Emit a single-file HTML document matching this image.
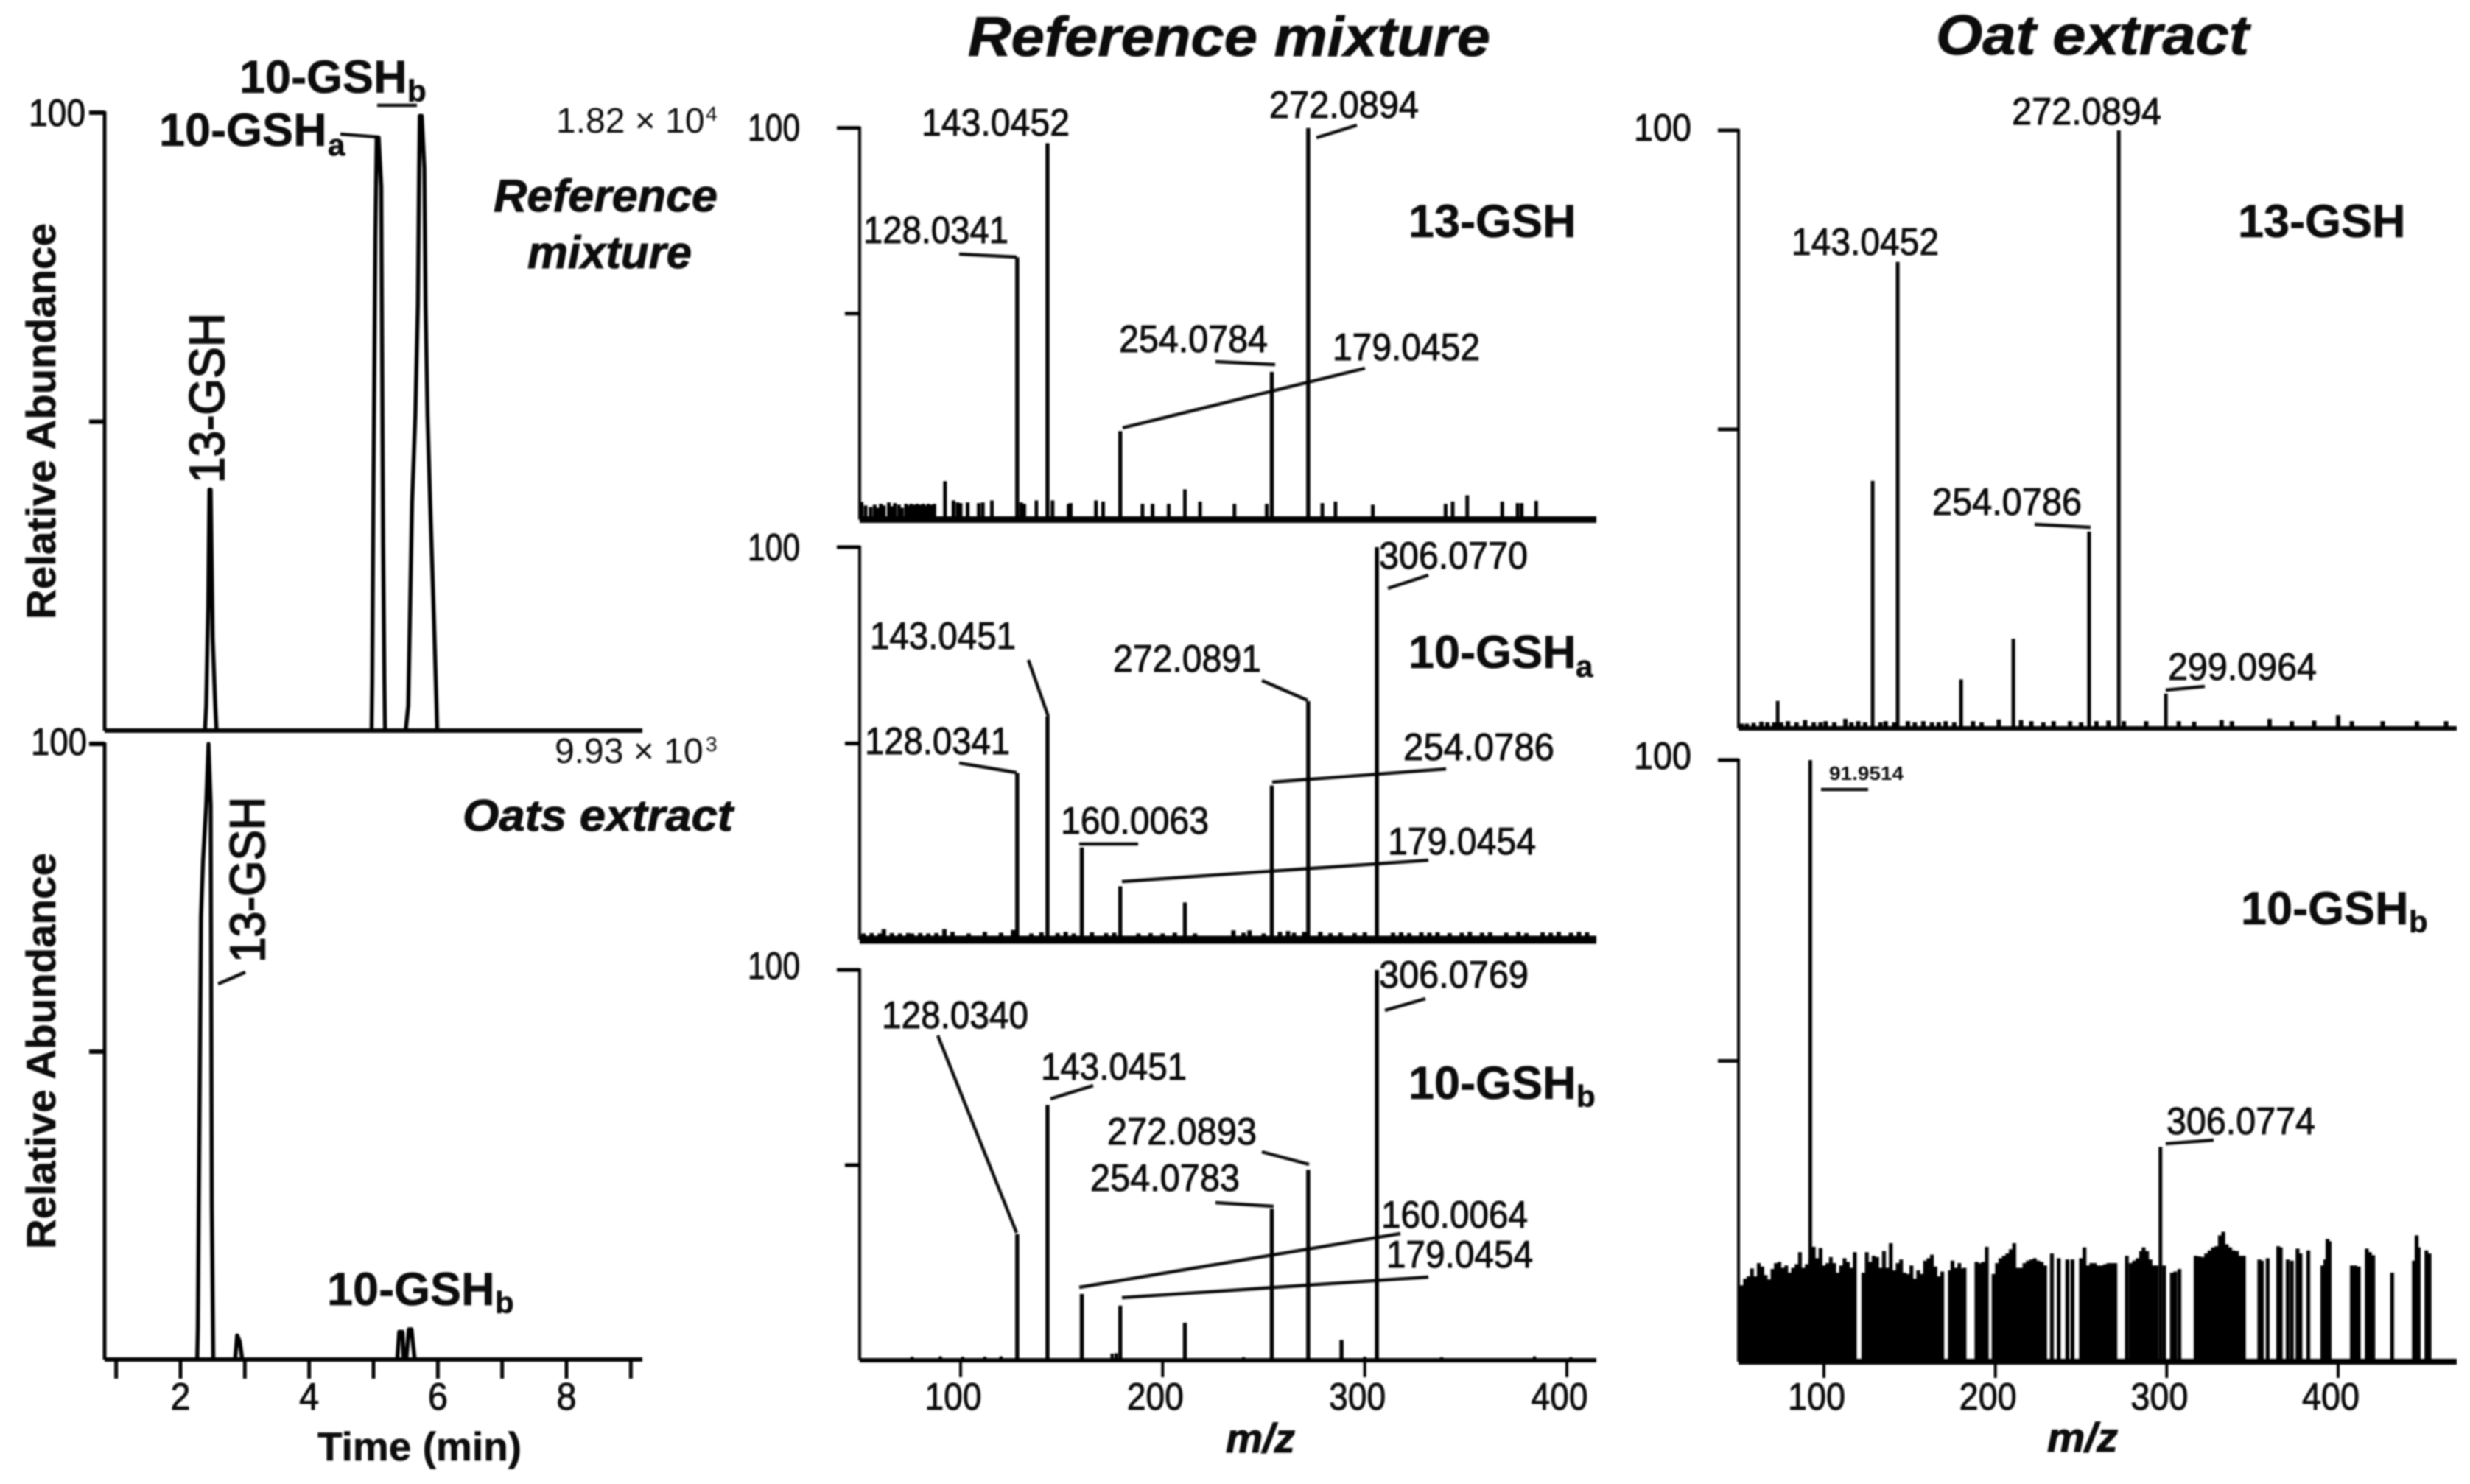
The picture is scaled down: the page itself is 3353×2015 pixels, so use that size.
<!DOCTYPE html>
<html lang="en">
<head>
<meta charset="utf-8">
<title>LC-MS chromatograms and MS/MS spectra of GSH conjugates</title>
<style>
  html, body { margin: 0; padding: 0; background: #fff; }
  svg { display: block; filter: blur(1px); }
  text { font-family: "Liberation Sans", sans-serif; fill: #0c0c0c; }
  .num { font-size: 52px; stroke: #0c0c0c; stroke-width: 1px; }
  .bold { font-weight: bold; font-size: 63px; stroke: #0c0c0c; stroke-width: 0.6px; }
  .sub { font-size: 42px; }
  .it { font-weight: bold; font-style: italic; stroke: #0c0c0c; stroke-width: 1px; }
  .leader { stroke: #0c0c0c; stroke-width: 4.5; fill: none; }
</style>
</head>
<body>
<svg id="figure" xmlns="http://www.w3.org/2000/svg" width="3353" height="2015" viewBox="0 0 3353 2015">
  <rect x="0" y="0" width="3353" height="2015" fill="#fff"/>

  <!-- Column titles -->
  <text class="it" x="1314" y="76" font-size="76" textLength="709" lengthAdjust="spacingAndGlyphs">Reference mixture</text>
  <text class="it" x="2628" y="74" font-size="76" textLength="425" lengthAdjust="spacingAndGlyphs">Oat extract</text>

  <!-- Chromatogram annotations -->
  <g>
    <text class="bold" x="325" y="126">10-GSH<tspan class="sub" x="553" dy="12">b</tspan></text>
    <text class="bold" x="216" y="198">10-GSH<tspan class="sub" x="445" dy="13">a</tspan></text>
    <line class="leader" x1="462" y1="182" x2="512" y2="186"/>
    <line class="leader" x1="512" y1="143" x2="566" y2="143"/>
    <text class="num" x="39" y="171" textLength="77" lengthAdjust="spacingAndGlyphs">100</text>
    <text x="755" y="180" font-size="48">1.82 × 10<tspan x="958" dy="-16" font-size="28">4</tspan></text>
    <text class="it" x="670" y="287" font-size="62" textLength="304" lengthAdjust="spacingAndGlyphs">Reference</text>
    <text class="it" x="716" y="364" font-size="62" textLength="223" lengthAdjust="spacingAndGlyphs">mixture</text>
    <text class="bold" transform="rotate(-90 304 656)" x="304" y="656" style="font-size:67px;font-weight:normal;stroke-width:2px" textLength="231" lengthAdjust="spacingAndGlyphs">13-GSH</text>
    <text class="bold" transform="rotate(-90 75 841)" x="75" y="841" style="font-size:56px" textLength="538" lengthAdjust="spacingAndGlyphs">Relative Abundance</text>

    <text class="num" x="42" y="1025" textLength="76" lengthAdjust="spacingAndGlyphs">100</text>
    <text x="753" y="1036" font-size="48">9.93 × 10<tspan x="958" dy="-16" font-size="28">3</tspan></text>
    <text class="it" x="628" y="1128" font-size="60" textLength="367" lengthAdjust="spacingAndGlyphs">Oats extract</text>
    <text class="bold" transform="rotate(-90 359 1307)" x="359" y="1307" style="font-size:67px;font-weight:normal;stroke-width:2px" textLength="225" lengthAdjust="spacingAndGlyphs">13-GSH</text>
    <line class="leader" x1="296" y1="1336" x2="333" y2="1320"/>
    <text class="bold" transform="rotate(-90 75 1696)" x="75" y="1696" style="font-size:56px" textLength="538" lengthAdjust="spacingAndGlyphs">Relative Abundance</text>
    <text class="bold" x="444" y="1772">10-GSH<tspan class="sub" x="672" dy="11">b</tspan></text>
    <text class="bold" x="431" y="1983" style="font-size:55px" textLength="277" lengthAdjust="spacingAndGlyphs">Time (min)</text>
  </g>

  <!-- Spectrum A annotations -->
  <g>
    <text class="num" x="1015" y="191" textLength="71" lengthAdjust="spacingAndGlyphs">100</text>
    <text class="num" x="1251" y="184" textLength="201" lengthAdjust="spacingAndGlyphs">143.0452</text>
    <text class="num" x="1723" y="160" textLength="203" lengthAdjust="spacingAndGlyphs">272.0894</text>
    <text class="num" x="1172" y="330" textLength="197" lengthAdjust="spacingAndGlyphs">128.0341</text>
    <text class="num" x="1519" y="478" textLength="202" lengthAdjust="spacingAndGlyphs">254.0784</text>
    <text class="num" x="1809" y="489" textLength="200" lengthAdjust="spacingAndGlyphs">179.0452</text>
    <text class="bold" x="1912" y="322">13-GSH</text>
    <line class="leader" x1="1787" y1="187" x2="1842" y2="170"/>
    <line class="leader" x1="1302" y1="345" x2="1380" y2="349"/>
    <line class="leader" x1="1650" y1="491" x2="1731" y2="495"/>
    <line class="leader" x1="1524" y1="581" x2="1853" y2="500"/>
  </g>

  <!-- Spectrum B annotations -->
  <g>
    <text class="num" x="1015" y="761" textLength="71" lengthAdjust="spacingAndGlyphs">100</text>
    <text class="num" x="1872" y="772" textLength="202" lengthAdjust="spacingAndGlyphs">306.0770</text>
    <text class="num" x="1181" y="881" textLength="198" lengthAdjust="spacingAndGlyphs">143.0451</text>
    <text class="num" x="1511" y="912" textLength="201" lengthAdjust="spacingAndGlyphs">272.0891</text>
    <text class="num" x="1174" y="1024" textLength="197" lengthAdjust="spacingAndGlyphs">128.0341</text>
    <text class="num" x="1905" y="1032" textLength="205" lengthAdjust="spacingAndGlyphs">254.0786</text>
    <text class="num" x="1440" y="1132" textLength="201" lengthAdjust="spacingAndGlyphs">160.0063</text>
    <text class="num" x="1884" y="1160" textLength="201" lengthAdjust="spacingAndGlyphs">179.0454</text>
    <text class="bold" x="1912" y="907">10-GSH<tspan class="sub" x="2139" dy="12">a</tspan></text>
    <line class="leader" x1="1884" y1="799" x2="1939" y2="781"/>
    <line class="leader" x1="1396" y1="896" x2="1423" y2="973"/>
    <line class="leader" x1="1713" y1="924" x2="1775" y2="951"/>
    <line class="leader" x1="1302" y1="1036" x2="1380" y2="1049"/>
    <line class="leader" x1="1727" y1="1062" x2="1963" y2="1044"/>
    <line class="leader" x1="1465" y1="1146" x2="1545" y2="1146"/>
    <line class="leader" x1="1523" y1="1197" x2="1939" y2="1168"/>
  </g>

  <!-- Spectrum C annotations -->
  <g>
    <text class="num" x="1015" y="1329" textLength="71" lengthAdjust="spacingAndGlyphs">100</text>
    <text class="num" x="1872" y="1341" textLength="203" lengthAdjust="spacingAndGlyphs">306.0769</text>
    <text class="num" x="1197" y="1396" textLength="199" lengthAdjust="spacingAndGlyphs">128.0340</text>
    <text class="num" x="1413" y="1466" textLength="198" lengthAdjust="spacingAndGlyphs">143.0451</text>
    <text class="num" x="1503" y="1554" textLength="203" lengthAdjust="spacingAndGlyphs">272.0893</text>
    <text class="num" x="1480" y="1617" textLength="203" lengthAdjust="spacingAndGlyphs">254.0783</text>
    <text class="num" x="1875" y="1667" textLength="199" lengthAdjust="spacingAndGlyphs">160.0064</text>
    <text class="num" x="1882" y="1721" textLength="199" lengthAdjust="spacingAndGlyphs">179.0454</text>
    <text class="bold" x="1912" y="1492">10-GSH<tspan class="sub" x="2140" dy="11">b</tspan></text>
    <line class="leader" x1="1880" y1="1372" x2="1935" y2="1356"/>
    <line class="leader" x1="1273" y1="1406" x2="1380" y2="1674"/>
    <line class="leader" x1="1426" y1="1492" x2="1484" y2="1474"/>
    <line class="leader" x1="1713" y1="1564" x2="1777" y2="1581"/>
    <line class="leader" x1="1650" y1="1633" x2="1729" y2="1638"/>
    <line class="leader" x1="1465" y1="1748" x2="1901" y2="1675"/>
    <line class="leader" x1="1523" y1="1762" x2="1939" y2="1734"/>
    <text class="it" x="1664" y="1972" font-size="56" textLength="94" lengthAdjust="spacingAndGlyphs">m/z</text>
  </g>

  <!-- Spectrum D annotations -->
  <g>
    <text class="num" x="2218" y="191" textLength="78" lengthAdjust="spacingAndGlyphs">100</text>
    <text class="num" x="2731" y="169" textLength="203" lengthAdjust="spacingAndGlyphs">272.0894</text>
    <text class="num" x="2432" y="346" textLength="200" lengthAdjust="spacingAndGlyphs">143.0452</text>
    <text class="num" x="2623" y="699" textLength="203" lengthAdjust="spacingAndGlyphs">254.0786</text>
    <text class="num" x="2943" y="923" textLength="202" lengthAdjust="spacingAndGlyphs">299.0964</text>
    <text class="bold" x="3038" y="322">13-GSH</text>
    <line class="leader" x1="2762" y1="712" x2="2838" y2="716"/>
    <line class="leader" x1="2940" y1="937" x2="2993" y2="932"/>
  </g>

  <!-- Spectrum E annotations -->
  <g>
    <text class="num" x="2218" y="1044" textLength="78" lengthAdjust="spacingAndGlyphs">100</text>
    <text x="2483" y="1059" font-size="26" font-weight="bold" textLength="101" lengthAdjust="spacingAndGlyphs">91.9514</text>
    <line class="leader" x1="2472" y1="1072" x2="2536" y2="1072"/>
    <text class="num" x="2941" y="1540" textLength="202" lengthAdjust="spacingAndGlyphs">306.0774</text>
    <line class="leader" x1="2940" y1="1553" x2="3005" y2="1548"/>
    <text class="bold" x="3042" y="1255">10-GSH<tspan class="sub" x="3270" dy="11">b</tspan></text>
    <text class="it" x="2779" y="1971" font-size="56" textLength="96" lengthAdjust="spacingAndGlyphs">m/z</text>
  </g>

  <g id="marks"></g>
</svg>

<script>
// ---- Chromatogram data ----
const timeTicks = [1, 2, 3, 4, 5, 6, 7, 8, 9];
const timeTickLabels = [2, 4, 6, 8];
const chromYTicks = [50, 100];

const mixTime = [1.51, 2.38, 2.40, 2.43, 2.45, 2.47, 2.50, 2.54, 2.56, 4.97, 4.98, 5.00, 5.03, 5.05, 5.08, 5.12, 5.15, 5.17, 5.18, 5.50, 5.54, 5.60, 5.65, 5.69, 5.71, 5.72, 5.75, 5.79, 5.81, 5.84, 5.88, 5.94, 5.98, 5.99, 9.17];
const mixAbundance = [0, 0, 4, 20, 39, 39, 15, 4, 0, 0, 8, 40, 80, 96, 96, 88, 30, 8, 0, 0, 4, 37, 51, 69, 91, 99.5, 99.5, 91, 69, 51, 37, 18, 4, 0, 0];

const oatTime = [2.26, 2.27, 2.32, 2.35, 2.40, 2.435, 2.47, 2.487, 2.51, 2.85, 2.88, 2.92, 2.96, 5.37, 5.40, 5.45, 5.47, 5.51, 5.55, 5.59, 5.64];
const oatAbundance = [0, 5, 72, 81, 90, 100, 90, 25, 0, 0, 3.9, 3, 0, 0, 4.5, 4.5, 0, 0, 4.9, 4.9, 0];

// ---- Spectrum data ----
const mzTicksMiddle = [100, 200, 300, 400];
const mzTicksRight = [100, 200, 300, 400];

const specAMz = [128, 143, 179, 254, 272];
const specAInt = [67, 96.1, 22.6, 37.7, 100];
const specANoiseMz = [51, 53, 55.5, 57.5, 59, 60.5, 62, 64.5, 66, 67.5, 69.5, 71, 73, 74.5, 75.5, 77, 78.5, 80, 81.5, 83, 84, 85.5, 87, 92.3, 96.5, 98.5, 100, 103.5, 109, 111, 115.5, 130, 131.5, 137.5, 145.5, 153.5, 154.5, 167, 170.5, 190, 195, 203, 211, 218.5, 235.5, 251.5, 279, 285.5, 304, 340, 343.5, 350.7, 368, 375.6, 377.6, 384.8];
const specANoiseInt = [4.5, 3.6, 3.2, 3.8, 3, 4, 3.6, 4.4, 3.4, 4.2, 3.8, 3, 4, 3.6, 4, 3.8, 4, 3.8, 4, 3.6, 4, 3.8, 4, 9.8, 4.9, 4.4, 4.2, 4.4, 4.2, 4.4, 4.9, 4.4, 4, 4.9, 4.9, 4, 4.2, 4.9, 4.6, 4, 4, 4, 7.7, 4.6, 4, 4, 4.2, 4.6, 3.8, 4, 4.6, 6.2, 4.6, 4.2, 4.2, 4.8];

const specBMz = [128, 143, 160, 179, 211, 254, 272, 306];
const specBInt = [42.5, 56.9, 23.5, 13.6, 9.5, 39.3, 60.8, 100];
const specBNoiseMz = [52, 56, 60, 62, 66, 70, 74, 76, 80, 84, 88, 92, 96, 104, 112, 120, 126, 135, 140, 148, 152, 156, 165, 172, 176, 188, 194, 200, 206, 216, 235, 240, 243, 250, 258, 262, 265, 270, 278, 283, 288, 295, 300, 314, 318, 322, 328, 332, 336, 342, 348, 352, 358, 362, 370, 376, 380, 388, 392, 396, 402, 406, 410];
const specBNoiseInt = [1.6, 1.7, 1.6, 2.7, 1.7, 1.6, 1.7, 1.6, 1.7, 1.6, 1.7, 2.7, 2, 1.6, 2, 1.8, 2.5, 1.6, 1.9, 1.7, 2, 1.6, 1.9, 1.7, 1.8, 1.6, 1.7, 1.6, 1.8, 1.6, 2.4, 1.8, 2.4, 1.6, 2, 2.2, 1.8, 2, 2, 1.7, 1.8, 1.7, 1.9, 1.8, 1.9, 1.7, 1.9, 1.8, 1.9, 1.7, 1.8, 2, 1.8, 1.9, 1.8, 2, 1.7, 1.9, 1.8, 2, 1.8, 2, 1.9];

const specCMz = [128, 143, 160, 179, 211, 254, 272, 288.5, 306];
const specCInt = [32.3, 65.4, 17, 14, 9.6, 38.8, 48.8, 5.2, 100];
const specCNoiseMz = [76, 90, 101, 112, 120, 175, 177, 240, 300, 338, 384, 402];
const specCNoiseInt = [0.9, 1, 0.9, 0.9, 1, 1.7, 1.8, 0.8, 0.9, 0.8, 1, 0.8];

const specDMz = [73, 128.4, 143, 180, 210.5, 254.7, 272, 299.5];
const specDInt = [4.6, 41.4, 78, 8.2, 15, 32.9, 100, 5.8];
const specDNoiseMz = [52, 55, 59, 63.5, 67, 71, 75, 79, 84, 89, 94, 98, 101, 106, 112.5, 116, 120, 124, 133, 136, 141, 149, 153, 158, 163, 167, 171, 176, 187, 192, 202, 215, 221, 228, 234, 243.6, 250, 259, 266, 275, 288, 307, 316, 332, 338, 360, 373, 386, 400, 408, 426, 446, 463];
const specDNoiseInt = [0.8, 0.8, 0.9, 1.1, 1, 1, 1, 1.2, 1, 1.4, 1, 1, 1.2, 1, 1.6, 1, 1.2, 1, 1, 1.2, 1, 1.2, 1, 1.2, 1, 1, 1.2, 1, 1.2, 1, 1.5, 1.4, 1.2, 1, 1.2, 1.2, 1, 1.2, 1.3, 1.2, 1.2, 1.2, 1.1, 1.4, 1.2, 1.6, 1.2, 1.3, 2.2, 1.2, 1.2, 1.2, 1.2];

const specEMz = [92, 296.3];
const specEInt = [100, 35.7];
const specENoiseMz = [51, 52, 54, 56, 58, 60, 62, 64, 66, 68, 70, 72, 74, 76, 78, 80, 82, 84, 86, 88, 90, 92, 94, 96, 98, 100, 102, 104, 106, 108, 110, 112, 114, 116, 118, 123, 125, 127, 129, 131, 133, 135, 137, 139, 141, 143, 145, 147, 149, 151, 153, 155, 157, 159, 161, 163, 165, 167, 169, 173.5, 175, 177, 179, 181, 182, 189, 191, 193, 195, 199, 201, 203, 205, 207, 209, 211, 213, 215, 217, 219, 221, 223, 225, 227, 229, 233, 237, 242, 245, 250, 252, 254, 256, 258, 260, 262, 264, 266, 268, 270, 276.7, 279, 281, 283, 285, 286.5, 288.5, 290.5, 292.5, 294, 298.5, 303, 305, 307.4, 316.9, 319, 321, 323, 325, 327, 329, 331, 333, 335, 337, 339, 341, 343, 345, 354, 355.5, 358.9, 365, 366.5, 370.6, 373, 376.3, 378, 382.6, 390.8, 392.5, 393.8, 395, 408, 410, 412, 416.7, 418.5, 420.5, 431.5, 444.2, 445.8, 447, 451.5, 453.3];
const specENoiseInt = [12, 12.7, 13.8, 14.2, 15.5, 14.2, 16.4, 15.8, 14.4, 13.7, 15.4, 16.4, 16.6, 15.6, 16, 14.8, 15.6, 16.2, 18.2, 15.6, 16.2, 17, 19.1, 17.2, 18.9, 16, 16.4, 17.4, 16.4, 14.8, 16, 17.2, 16.6, 15.6, 18.2, 14.8, 18.2, 16.6, 17.6, 17.4, 15.6, 18.4, 15.6, 19.7, 15.2, 16.4, 17, 14.8, 14.6, 16, 13.8, 15.2, 14.6, 16.8, 17.2, 17.8, 15.8, 14.2, 15, 15.2, 16.8, 15.6, 16.4, 15.5, 15.6, 16.6, 16.4, 16.6, 19.1, 14.6, 16.4, 17.2, 17.6, 18, 18.7, 19.7, 15.6, 15.6, 16.4, 16.8, 17, 17.2, 16.8, 16.6, 16, 18, 17.2, 17, 17, 17.2, 19, 16, 16.4, 16.4, 16, 16, 16.2, 16.4, 16.4, 16.4, 17.6, 16.4, 16.8, 17.2, 18.4, 19, 18.4, 17, 16, 16, 16, 14.8, 15, 15.4, 17.6, 17.5, 17.4, 18, 18.5, 19, 19.2, 21, 21.6, 19.5, 19, 18.5, 18.4, 17.6, 17.6, 17, 16.8, 17.2, 19.2, 19, 17, 16.8, 18.8, 18, 18.5, 16, 17, 20.4, 20, 16, 16, 15.8, 18.8, 18.2, 17.7, 14.8, 16.8, 21, 19, 18.5, 18];

// ---- Drawing helpers ----
const SVG_NS = 'http://www.w3.org/2000/svg';
const marks = document.getElementById('marks');

function linear(d0, d1, r0, r1) {
  return function (v) { return r0 + (v - d0) * (r1 - r0) / (d1 - d0); };
}
function makeGroup(parent) {
  const g = document.createElementNS(SVG_NS, 'g');
  parent.appendChild(g);
  return g;
}
function makeLine(parent, x1, y1, x2, y2, width) {
  const l = document.createElementNS(SVG_NS, 'line');
  l.setAttribute('x1', x1);
  l.setAttribute('y1', y1);
  l.setAttribute('x2', x2);
  l.setAttribute('y2', y2);
  l.setAttribute('stroke', '#000');
  l.setAttribute('stroke-width', width);
  parent.appendChild(l);
  return l;
}
function makeLabel(parent, x, y, str, len) {
  const t = document.createElementNS(SVG_NS, 'text');
  t.setAttribute('class', 'num');
  t.setAttribute('x', x);
  t.setAttribute('y', y);
  t.setAttribute('text-anchor', 'middle');
  t.setAttribute('textLength', len);
  t.setAttribute('lengthAdjust', 'spacingAndGlyphs');
  t.textContent = String(str);
  parent.appendChild(t);
  return t;
}

function drawYAxis(parent, axisX, topY, baseY, ticks, y, tickLenMajor, tickLenMinor, width) {
  const axis = makeLine(parent, axisX, topY - 2, axisX, baseY, width);
  
  
  ticks.forEach(function (v) {
    const len = v === 100 ? tickLenMajor : tickLenMinor;
    const tick = makeLine(parent, axisX - len, y(v), axisX, y(v), width + 1);
    
    
  });
}

function drawTrace(parent, times, values, x, y) {
  const pts = times.map(function (t, i) { return x(t).toFixed(1) + ',' + y(values[i]).toFixed(1); });
  const p = document.createElementNS(SVG_NS, 'polyline');
  p.setAttribute('points', pts.join(' '));
  p.setAttribute('fill', 'none');
  p.setAttribute('stroke', '#000');
  p.setAttribute('stroke-width', '5.5');
  p.setAttribute('stroke-linejoin', 'round');
  parent.appendChild(p);
  return p;
}

function drawSticks(parent, mz, values, x, y, width, name) {
  mz.forEach(function (m, i) {
    const stick = makeLine(parent, x(m), y(0), x(m), y(values[i]), width);
    
    
  });
}

// ---- Chromatogram: reference mixture ----
const chromX = linear(2, 8, 245, 769);
const mixY = linear(0, 100, 992, 153);
const mixGroup = makeGroup(marks);


drawYAxis(mixGroup, 142, 153, 992, chromYTicks, mixY, 21, 21, 5);
const mixBase = makeLine(mixGroup, 142, 992, 872, 992, 6);


const mixTrace = drawTrace(mixGroup, mixTime, mixAbundance, chromX, mixY);



// ---- Chromatogram: oats extract ----
const oatY = linear(0, 100, 1846, 1010);
const oatGroup = makeGroup(marks);


drawYAxis(oatGroup, 142, 1010, 1846, chromYTicks, oatY, 21, 21, 5);
const oatBase = makeLine(oatGroup, 142, 1846, 872, 1846, 6);


timeTicks.forEach(function (t) {
  const tick = makeLine(oatGroup, chromX(t), 1846, chromX(t), 1872, 5);
  
  
});
timeTickLabels.forEach(function (t) {
  const lab = makeLabel(oatGroup, chromX(t), 1914, t, 27);
  
  
});
const oatTrace = drawTrace(oatGroup, oatTime, oatAbundance, chromX, oatY);



// ---- Spectra ----
const midX = linear(100, 400, 1304, 2127);
const rightX = linear(100, 400, 2476, 3174);

function drawSpectrum(name, axisX, endX, topY, baseY, midTick, xFn, mz, ints, noiseMz, noiseInts, tickMajor, tickMinor, baseWidth, noiseWidth, peakWidth) {
  const g = makeGroup(marks);
  
  
  const y = linear(0, 100, baseY, topY);
  drawSticks(g, noiseMz, noiseInts, xFn, y, noiseWidth, 'noise-peak');
  drawSticks(g, mz, ints, xFn, y, peakWidth, 'spectrum-peak');
  drawYAxis(g, axisX, topY, baseY, [midTick, 100], y, tickMajor, tickMinor, 4);
  const base = makeLine(g, axisX, baseY, endX, baseY, baseWidth);
  
  
  return g;
}

drawSpectrum('spectrum-13-gsh-reference', 1167, 2167, 173.7, 705.5, 52.6, midX, specAMz, specAInt, specANoiseMz, specANoiseInt, 31, 20, 9, 5, 5.5);
drawSpectrum('spectrum-10-gsh-a-reference', 1167, 2167, 743, 1276, 50, midX, specBMz, specBInt, specBNoiseMz, specBNoiseInt, 31, 20, 11, 6, 5.5);
const specCGroup = drawSpectrum('spectrum-10-gsh-b-reference', 1167, 2167, 1317, 1847, 50, midX, specCMz, specCInt, specCNoiseMz, specCNoiseInt, 31, 20, 6, 4.5, 5.5);
drawSpectrum('spectrum-13-gsh-oat', 2360, 3335, 177, 989, 50, rightX, specDMz, specDInt, specDNoiseMz, specDNoiseInt, 28, 28, 6, 6, 5);
const specEGroup = drawSpectrum('spectrum-10-gsh-b-oat', 2360, 3335, 1032, 1849, 50, rightX, specEMz, specEInt, specENoiseMz, specENoiseInt, 28, 28, 8, 5.2, 5);

mzTicksMiddle.forEach(function (m) {
  const tick = makeLine(specCGroup, midX(m), 1847, midX(m), 1870, 4);
  
  
  const lab = makeLabel(specCGroup, midX(m) - 10, 1914, m, 77);
  
  
});
mzTicksRight.forEach(function (m) {
  const tick = makeLine(specEGroup, rightX(m), 1849, rightX(m), 1871, 4);
  
  
  const lab = makeLabel(specEGroup, rightX(m) - 10, 1914, m, 78);
  
  
});
</script>
</body>
</html>
